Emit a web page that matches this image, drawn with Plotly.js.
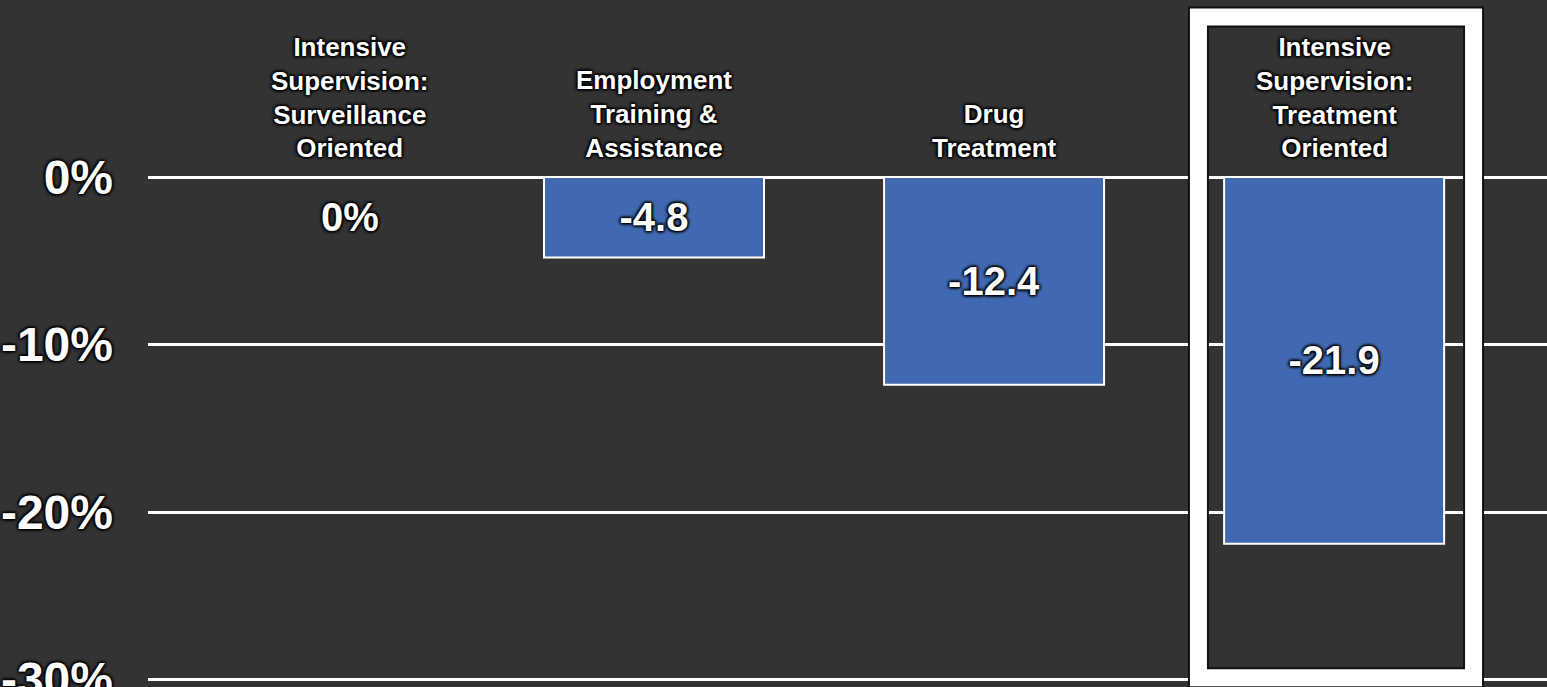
<!DOCTYPE html>
<html>
<head>
<meta charset="utf-8">
<script src="https://cdn.plot.ly/plotly-3.0.1.min.js"></script>
<style>
  html, body { margin: 0; padding: 0; background: #333333; }
  #chart { width: 1547px; height: 687px; }
</style>
</head>
<body>
<div id="chart"></div>
<script>
// ---- data ----
const categories = [
  "Intensive<br>Supervision:<br>Surveillance<br>Oriented",
  "Employment<br>Training &<br>Assistance",
  "Drug<br>Treatment",
  "Intensive<br>Supervision:<br>Treatment<br>Oriented"
];
const values = [0, -4.8, -12.4, -21.9];
const tickValues = [0, -10, -20, -30];
const tickLabels = ["0%", "-10%", "-20%", "-30%"];
const highlightIndex = 3;

// ---- styling ----
const BG = "#333333";
const BAR = "#4169b1";
const FONT = "Liberation Sans, Arial, sans-serif";
const SHADOW = "1px 1px 3px #000, -1px -1px 3px #000, 1px -1px 3px #000, -1px 1px 3px #000";

const xIdx = categories.map((c, i) => i);

const trace = {
  type: "bar",
  x: xIdx,
  y: values,
  width: 0.647,
  marker: { color: BAR, line: { color: "#ffffff", width: 2 } },
  text: values.map(v => v === 0 ? "" : String(v)),
  textposition: "inside",
  insidetextanchor: "middle",
  textangle: 0,
  constraintext: "none",
  textfont: { family: FONT, size: 40, color: "#ffffff", weight: "bold", shadow: SHADOW },
  hoverinfo: "skip",
  showlegend: false
};

const annotations = categories.map((c, i) => ({
  x: i, y: 0, xref: "x", yref: "y",
  text: c,
  showarrow: false,
  xanchor: "center", yanchor: "bottom",
  yshift: 12,
  xshift: i === 0 ? 36 : 0,
  align: "center",
  font: { family: FONT, size: 26, color: "#ffffff", weight: "bold", shadow: SHADOW }
}));
// zero-valued bar label shown below the line
values.forEach((v, i) => {
  if (v === 0) {
    annotations.push({
      x: i, y: v, xref: "x", yref: "y",
      text: v + "%",
      showarrow: false,
      xanchor: "center", yanchor: "top",
      yshift: -16,
      xshift: 36,
      font: { family: FONT, size: 40, color: "#ffffff", weight: "bold", shadow: SHADOW }
    });
  }
});

const hx0 = highlightIndex - 0.399, hx1 = highlightIndex + 0.410;
const shapes = [
  { type: "rect", xref: "x", yref: "y", x0: hx0, x1: hx1, y0: -29.9, y1: 9.55,
    line: { color: "#111111", width: 21 }, fillcolor: "rgba(0,0,0,0)", layer: "above" },
  { type: "rect", xref: "x", yref: "y", x0: hx0, x1: hx1, y0: -29.9, y1: 9.55,
    line: { color: "#ffffff", width: 17 }, fillcolor: "rgba(0,0,0,0)", layer: "above" }
];

const layout = {
  width: 1547, height: 687,
  margin: { l: 148, r: 0, t: 0, b: 0, pad: 0 },
  paper_bgcolor: BG,
  plot_bgcolor: BG,
  showlegend: false,
  xaxis: {
    range: [-0.488, 3.626],
    showticklabels: false, showgrid: false, zeroline: false, showline: false,
    fixedrange: true
  },
  yaxis: {
    range: [-30.448, 10.567],
    tickvals: tickValues,
    ticktext: tickLabels,
    showgrid: true, gridcolor: "#ffffff", gridwidth: 3,
    zeroline: false, showline: false,
    ticks: "",
    ticklabelstandoff: 34,
    ticklabeloverflow: "allow",
    tickfont: { family: FONT, size: 48, color: "#ffffff", weight: "bold", shadow: SHADOW },
    fixedrange: true
  },
  annotations: annotations,
  shapes: shapes
};

Plotly.newPlot("chart", [trace], layout, { displayModeBar: false, staticPlot: true });
</script>
</body>
</html>
